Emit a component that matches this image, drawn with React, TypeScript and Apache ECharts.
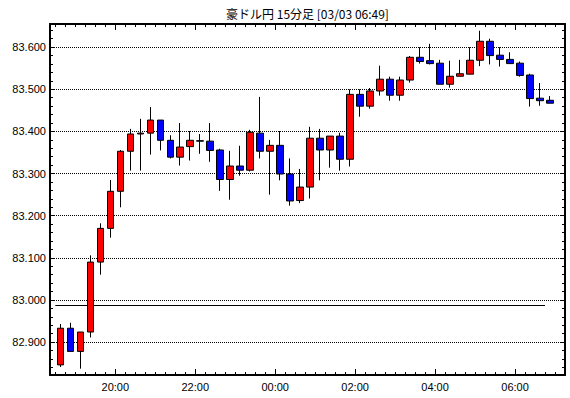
import React, { useEffect, useRef } from 'react';
import * as echarts from 'echarts';

const chartTitle = '豪ドル円 15分足 [03/03 06:49]';

const times = [
  '18:30', '18:45', '19:00', '19:15', '19:30', '19:45', '20:00', '20:15', '20:30', '20:45',
  '21:00', '21:15', '21:30', '21:45', '22:00', '22:15', '22:30', '22:45', '23:00', '23:15',
  '23:30', '23:45', '00:00', '00:15', '00:30', '00:45', '01:00', '01:15', '01:30', '01:45',
  '02:00', '02:15', '02:30', '02:45', '03:00', '03:15', '03:30', '03:45', '04:00', '04:15',
  '04:30', '04:45', '05:00', '05:15', '05:30', '05:45', '06:00', '06:15', '06:30', '06:45',
];

const opens = [
  82.846, 82.933, 82.878, 82.924, 83.090, 83.170, 83.258, 83.353, 83.394, 83.396,
  83.427, 83.379, 83.339, 83.364, 83.378, 83.377, 83.356, 83.286, 83.318, 83.308,
  83.396, 83.353, 83.367, 83.299, 83.236, 83.268, 83.384, 83.356, 83.389, 83.334,
  83.488, 83.460, 83.496, 83.524, 83.486, 83.522, 83.576, 83.568, 83.562, 83.512,
  83.531, 83.536, 83.569, 83.614, 83.581, 83.571, 83.562, 83.534, 83.479, 83.474,
];
const closes = [
  82.933, 82.878, 82.924, 83.090, 83.170, 83.258, 83.353, 83.394, 83.396, 83.427,
  83.379, 83.339, 83.363, 83.379, 83.377, 83.355, 83.286, 83.318, 83.308, 83.398,
  83.353, 83.367, 83.299, 83.235, 83.268, 83.384, 83.356, 83.389, 83.334, 83.488,
  83.460, 83.496, 83.524, 83.486, 83.522, 83.576, 83.566, 83.561, 83.512, 83.531,
  83.537, 83.569, 83.614, 83.580, 83.571, 83.561, 83.533, 83.478, 83.473, 83.467,
];
const lows = [
  82.841, 82.878, 82.837, 82.911, 83.060, 83.148, 83.220, 83.307, 83.307, 83.345,
  83.355, 83.336, 83.319, 83.331, 83.347, 83.328, 83.259, 83.238, 83.295, 83.305,
  83.336, 83.250, 83.284, 83.224, 83.230, 83.241, 83.284, 83.314, 83.307, 83.317,
  83.435, 83.454, 83.485, 83.473, 83.473, 83.516, 83.561, 83.559, 83.512, 83.504,
  83.531, 83.536, 83.555, 83.559, 83.554, 83.561, 83.530, 83.459, 83.461, 83.467,
];
const highs = [
  82.943, 82.946, 82.924, 83.106, 83.182, 83.285, 83.356, 83.406, 83.430, 83.458,
  83.427, 83.391, 83.420, 83.401, 83.394, 83.420, 83.359, 83.354, 83.366, 83.404,
  83.482, 83.380, 83.401, 83.336, 83.311, 83.411, 83.406, 83.389, 83.397, 83.500,
  83.500, 83.503, 83.556, 83.530, 83.530, 83.579, 83.600, 83.608, 83.570, 83.568,
  83.570, 83.600, 83.639, 83.620, 83.600, 83.588, 83.566, 83.537, 83.515, 83.484,
];

const prevClose = 82.987;

const yTickLabels = ['82.900', '83.000', '83.100', '83.200', '83.300', '83.400', '83.500', '83.600'];
const xTickLabels = ['20:00', '22:00', '00:00', '02:00', '04:00', '06:00'];

const Y_MIN = 82.822;
const Y_MAX = 83.655;
const X_MIN = -8;
const X_MAX = 765;

const BASE_MIN = 18 * 60 + 30;
const toMin = (t: string) => {
  const [h, m] = t.split(':').map(Number);
  return (((h * 60 + m - BASE_MIN) % 1440) + 1440) % 1440;
};

const FONT = 'Liberation Sans';

export default function App() {
  const ref = useRef<HTMLDivElement>(null);

  useEffect(() => {
    if (!ref.current) return;
    const chart = echarts.init(ref.current, undefined, { renderer: 'svg' });

    const majorY = yTickLabels.map(Number);
    const minorY: number[] = [];
    for (let k = Math.ceil(Y_MIN / 0.02 - 1e-6); k * 0.02 <= Y_MAX + 1e-9; k++) {
      const v = Math.round(k * 0.02 * 1000) / 1000;
      if (v > Y_MIN && v < Y_MAX) minorY.push(v);
    }
    const slotMins = times.map(toMin);
    const minorX = slotMins.concat([slotMins[slotMins.length - 1] + 15]);
    const majorX = xTickLabels.map(toMin);

    const candles = times.map((t, i) => [toMin(t) + 7.5, opens[i], closes[i], lows[i], highs[i]]);

    const lineBlack = { color: '#000', width: 2 };

    const xBase = (position: 'top' | 'bottom', ticks: number[], len: number, showLine: boolean, labels: boolean) => ({
      type: 'value',
      position,
      min: X_MIN,
      max: X_MAX,
      gridIndex: 0,
      axisLine: { show: showLine, onZero: false, lineStyle: lineBlack },
      axisTick: { show: true, inside: true, length: len, customValues: ticks, lineStyle: { color: '#000', width: 1 } },
      axisLabel: labels
        ? {
            show: true,
            customValues: majorX,
            margin: 6,
            color: '#000',
            fontFamily: FONT,
            fontSize: 11,
            formatter: (v: number) => {
              const i = majorX.indexOf(Math.round(v));
              return i >= 0 ? xTickLabels[i] : '';
            },
          }
        : { show: false },
      splitLine: { show: false },
    });

    const yBase = (position: 'left' | 'right', ticks: number[], len: number, showLine: boolean, labels: boolean, grid: boolean) => ({
      type: 'value',
      position,
      min: Y_MIN,
      max: Y_MAX,
      gridIndex: 0,
      axisLine: { show: showLine, onZero: false, lineStyle: lineBlack },
      axisTick: { show: true, inside: true, length: len, customValues: ticks, lineStyle: { color: '#000', width: 1 } },
      axisLabel: labels
        ? {
            show: true,
            customValues: majorY,
            margin: 4,
            color: '#000',
            fontFamily: FONT,
            fontSize: 11,
            formatter: (v: number) => v.toFixed(3),
          }
        : { show: false },
      splitLine: grid ? { show: true, lineStyle: { color: '#000', width: 1, type: 'dotted' } } : { show: false },
    });

    chart.setOption({
      animation: false,
      backgroundColor: '#ffffff',
      grid: { left: 50, right: 5, top: 24, bottom: 23 },
      graphic: [
        {
          type: 'text',
          x: 307.5,
          y: 13,
          style: {
            text: chartTitle,
            fill: '#000',
            font: '12px "Noto Sans CJK JP", sans-serif',
            align: 'center',
            verticalAlign: 'middle',
          },
        },
      ],
      xAxis: [
        xBase('bottom', minorX, 3, true, false),
        xBase('bottom', majorX, 6, false, true),
        xBase('top', minorX, 3, true, false),
        xBase('top', majorX, 6, false, false),
      ],
      yAxis: [
        yBase('left', majorY, 5, true, true, true),
        yBase('left', minorY, 3, false, false, false),
        yBase('right', majorY, 5, true, false, false),
        yBase('right', minorY, 3, false, false, false),
      ],
      series: [
        {
          type: 'candlestick',
          xAxisIndex: 0,
          yAxisIndex: 0,
          data: candles,
          encode: { x: 0, y: [1, 2, 3, 4] },
          barWidth: 7,
          clip: false,
          z: 5,
          itemStyle: {
            color: '#ff0000',
            color0: '#0000ff',
            borderColor: '#000000',
            borderColor0: '#000000',
            borderColorDoji: '#000000',
            borderWidth: 1,
          },
          emphasis: { disabled: true },
          markLine: {
            silent: true,
            symbol: 'none',
            label: { show: false },
            lineStyle: { color: '#000', width: 1, type: 'solid' },
            data: [
              [
                { coord: [toMin(times[0]), prevClose] },
                { coord: [toMin(times[times.length - 1]), prevClose] },
              ],
            ],
          },
        },
      ],
    });

    return () => chart.dispose();
  }, []);

  return (
    <div
      ref={ref}
      style={{ position: 'absolute', left: 0, top: 0, width: 570, height: 398, background: '#fff' }}
    />
  );
}
